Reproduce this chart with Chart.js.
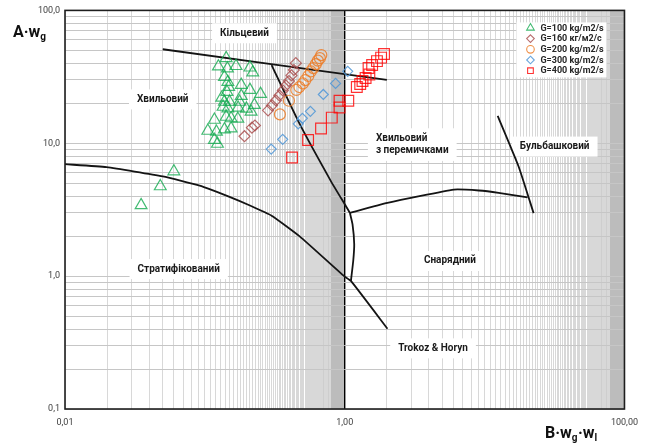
<!DOCTYPE html>
<html>
<head>
<meta charset="utf-8">
<script src="https://cdn.jsdelivr.net/npm/chart.js@4.4.1/dist/chart.umd.min.js"></script>
<style>
  html, body { margin: 0; padding: 0; background: #ffffff; }
  canvas { display: block; }
</style>
</head>
<body>
<canvas id="flowMap" width="646" height="443"></canvas>
<script>
// Measured points, [B·wg·wl, A·wg]
const g100 = [
  [0.142, 43.7], [0.125, 37.8], [0.145, 36.5], [0.167, 38.1], [0.210, 37.1], [0.220, 34.1],
  [0.138, 31.5], [0.146, 28.9], [0.148, 26.5], [0.182, 27.5], [0.210, 25.2], [0.250, 23.5],
  [0.144, 24.3], [0.132, 22.0], [0.138, 20.5], [0.150, 20.5], [0.177, 20.5], [0.182, 22.7],
  [0.146, 18.3], [0.135, 18.8], [0.173, 18.5], [0.198, 18.2], [0.226, 19.4], [0.214, 17.3],
  [0.117, 15.0], [0.142, 15.8], [0.154, 15.4], [0.172, 15.3], [0.105, 12.4], [0.121, 12.2],
  [0.138, 12.7], [0.154, 12.9], [0.117, 10.6], [0.123, 9.9],
  [0.035, 3.42], [0.048, 4.74], [0.060, 6.14]
];
const g160 = [
  [0.192, 11.3], [0.217, 13.1], [0.228, 13.6], [0.283, 17.7], [0.302, 19.3], [0.322, 21.0],
  [0.341, 22.9], [0.361, 25.0], [0.380, 27.2], [0.399, 29.4], [0.416, 32.4], [0.433, 35.6],
  [0.447, 40.1]
];
const g200 = [
  [0.344, 16.5], [0.399, 20.9], [0.451, 25.2], [0.474, 26.5], [0.502, 28.2], [0.523, 29.9],
  [0.549, 32.1], [0.572, 34.7], [0.596, 36.8], [0.621, 39.4], [0.642, 41.9], [0.664, 43.7],
  [0.680, 46.1]
];
const g300 = [
  [0.298, 9.04], [0.360, 10.7], [0.465, 14.0], [0.498, 15.4], [0.568, 17.4], [0.703, 23.3],
  [0.860, 28.2], [1.05, 34.8]
];
const g400 = [
  [0.420, 7.81], [0.547, 10.6], [0.677, 12.9], [0.808, 15.6], [0.918, 18.6], [0.918, 20.9],
  [1.06, 20.9], [1.22, 26.5], [1.29, 27.9], [1.34, 29.4], [1.41, 31.0], [1.50, 32.9],
  [1.48, 36.8], [1.57, 38.8], [1.70, 41.5], [1.82, 44.1], [1.91, 46.9]
];

// Flow-regime boundaries (Trokoz & Horyn map)
const annularBoundary = [[0.05, 51], [2.0, 30]];
const annularWavyBridge = [[0.3, 38.8], [0.474, 14.1], [0.798, 5.17], [1.02, 3.36], [1.089, 2.99]];
const stratifiedBoundary = [
  [0.01, 6.96], [0.0198, 6.61], [0.05, 5.63], [0.0918, 4.80], [0.15, 3.95], [0.21, 3.40],
  [0.30, 2.85], [0.474, 2.0], [0.99, 1.0], [1.107, 0.92], [2.02, 0.402]
];
const slugWestBoundary = [[1.089, 2.99], [1.137, 2.45], [1.169, 1.74], [1.150, 1.30], [1.107, 0.92]];
const slugTopBoundary = [[1.089, 2.99], [2.02, 3.56], [6.04, 4.48], [9.1, 4.41], [12.6, 4.24], [20.3, 3.92]];
const bubbleBoundary = [[12.4, 16.1], [17.5, 6.69], [22.4, 2.98]];

// Axis labels
const xLabelValues = [0.01, 1, 100];
const xLabelText = ['0,01', '1,00', '100,00'];
const yLabelValues = [0.1, 1, 10, 100];
const yLabelText = ['0,1', '1,0', '10,0', '100,0'];

// Series names
const seriesNames = ['G=100 kg/m2/s', 'G=160 кг/м2/с', 'G=200 kg/m2/s', 'G=300 kg/m2/s', 'G=400 kg/m2/s'];

// Regime names placed in data coordinates
const regionLabels = [
  { lines: ['Кільцевий'], x: 0.192, y: 67.3, align: 'center' },
  { lines: ['Хвильовий'], x: 0.05, y: 21.4, align: 'center' },
  { lines: ['Хвильовий', 'з перемичками'], x: 1.67, y: 10.9, align: 'left' },
  { lines: ['Бульбашковий'], x: 31.7, y: 9.44, align: 'center' },
  { lines: ['Стратифікований'], x: 0.065, y: 1.13, align: 'center' },
  { lines: ['Снарядний'], x: 5.65, y: 1.30, align: 'center' },
  { lines: ['Trokoz & Horyn'], x: 4.28, y: 0.286, align: 'center' }
];

const FONT = 'Roboto, "Open Sans", "DejaVu Sans", sans-serif';

function toPoints(arr) { return arr.map(p => ({ x: p[0], y: p[1] })); }

function matchLabel(values, texts, v) {
  const i = values.findIndex(t => Math.abs(t - v) / t < 1e-6);
  return i >= 0 ? texts[i] : '';
}

// gridlines at every hundredth below 1 and every unit above 1
function denseXGrid() {
  const v = [];
  for (let k = 1; k < 100; k++) v.push(k / 100);
  for (let k = 1; k <= 100; k++) v.push(k);
  return v;
}
function decadeYGrid() {
  const v = [];
  [0.1, 1, 10].forEach(d => { for (let k = 1; k < 10; k++) v.push(+(k * d).toPrecision(6)); });
  v.push(100);
  return v;
}
// the last fifth of each dense run merges into a solid band
function inDenseBand(v) {
  return (v >= 0.8 - 1e-9 && v < 1 - 1e-9) || (v >= 80 - 1e-9 && v < 100 - 1e-9);
}
function isUnit(v) { return Math.abs(v - 1) < 1e-9; }

const markerSets = [
  { data: g100, style: 'triangle', radius: 6.8, color: 'rgba(20,170,80,0.8)' },
  { data: g160, style: 'rectRot', radius: 5.5, color: 'rgba(168,72,72,0.8)' },
  { data: g200, style: 'circle', radius: 5.5, color: 'rgba(236,125,40,0.85)' },
  { data: g300, style: 'rectRot', radius: 5, color: 'rgba(80,150,215,0.85)' },
  { data: g400, style: 'rect', radius: 7.6, color: 'rgba(255,0,0,0.8)' }
];

const datasets = markerSets.map((s, i) => ({
  label: seriesNames[i],
  data: toPoints(s.data),
  pointStyle: s.style,
  pointRadius: s.radius,
  pointHoverRadius: s.radius,
  pointBorderColor: s.color,
  pointBackgroundColor: 'rgba(0,0,0,0)',
  pointBorderWidth: 1.2,
  showLine: false,
  inLegend: true,
  order: 1
}));

[annularBoundary, annularWavyBridge, stratifiedBoundary, slugWestBoundary, slugTopBoundary, bubbleBoundary]
  .forEach(line => datasets.push({
    data: toPoints(line),
    showLine: true,
    borderColor: '#141414',
    borderWidth: 1.8,
    pointRadius: 0,
    tension: 0.15,
    inLegend: false,
    order: 2
  }));

const regionLabelPlugin = {
  id: 'regionLabels',
  beforeDatasetsDraw(chart) {
    const { ctx, scales } = chart;
    ctx.save();
    ctx.font = 'bold 10px ' + FONT;
    ctx.textBaseline = 'middle';
    regionLabels.forEach(l => {
      const px = scales.x.getPixelForValue(l.x);
      const py = scales.y.getPixelForValue(l.y);
      const lh = 12.6;
      const w = Math.max(...l.lines.map(t => ctx.measureText(t).width));
      const left = l.align === 'left' ? px : px - w / 2;
      const top = py - 10;
      const h = 20 + (l.lines.length - 1) * lh;
      ctx.fillStyle = '#ffffff';
      ctx.fillRect(left - 8, top, w + 16, h);
      ctx.fillStyle = '#1a1a1a';
      ctx.textAlign = 'left';
      l.lines.forEach((t, j) => {
        const tw = ctx.measureText(t).width;
        const tx = l.align === 'left' ? left : px - tw / 2;
        ctx.fillText(t, tx, py + j * lh);
      });
    });
    ctx.restore();
  }
};

function drawMarker(ctx, style, x, y, r) {
  ctx.beginPath();
  if (style === 'triangle') {
    ctx.moveTo(x, y - r);
    ctx.lineTo(x + r * 0.866, y + r * 0.5);
    ctx.lineTo(x - r * 0.866, y + r * 0.5);
    ctx.closePath();
  } else if (style === 'rectRot') {
    ctx.moveTo(x, y - r); ctx.lineTo(x + r, y); ctx.lineTo(x, y + r); ctx.lineTo(x - r, y);
    ctx.closePath();
  } else if (style === 'circle') {
    ctx.arc(x, y, r, 0, Math.PI * 2);
  } else {
    const s = r * 0.75;
    ctx.rect(x - s, y - s, 2 * s, 2 * s);
  }
  ctx.stroke();
}

const legendPlugin = {
  id: 'insideLegend',
  afterDatasetsDraw(chart) {
    const { ctx, chartArea } = chart;
    const left = chartArea.right - 108, top = chartArea.top + 12;
    ctx.save();
    ctx.fillStyle = '#ffffff';
    ctx.fillRect(left, top, 90, 55);
    ctx.font = 'bold 9px ' + FONT;
    ctx.textBaseline = 'middle';
    ctx.textAlign = 'left';
    chart.data.datasets.filter(d => d.inLegend).forEach((d, i) => {
      const y = top + 5.5 + i * 10.7;
      ctx.strokeStyle = d.pointBorderColor;
      ctx.lineWidth = 1.1;
      drawMarker(ctx, d.pointStyle, left + 14, y, d.pointStyle === 'triangle' ? 4.4 : 3.8);
      ctx.fillStyle = '#262626';
      ctx.fillText(d.label, left + 24, y + 0.5);
    });
    ctx.restore();
  }
};

const framePlugin = {
  id: 'frame',
  afterDraw(chart) {
    const { ctx, chartArea: a } = chart;
    ctx.save();
    ctx.strokeStyle = '#1e1e1e';
    ctx.lineWidth = 1.6;
    ctx.strokeRect(a.left, a.top, a.right - a.left, a.bottom - a.top);

    // axis titles
    ctx.fillStyle = '#111111';
    ctx.textBaseline = 'alphabetic';
    ctx.textAlign = 'left';
    const big = 'bold 16px ' + FONT, small = 'bold 10px ' + FONT;
    function run(parts, x, y) {
      parts.forEach(p => {
        ctx.font = p.sub ? small : big;
        ctx.fillText(p.t, x, y + (p.sub ? 3 : 0));
        x += ctx.measureText(p.t).width + (p.sub ? 0.5 : 0);
      });
    }
    run([{ t: 'A·w' }, { t: 'g', sub: true }], 13, 37);
    run([{ t: 'B·w' }, { t: 'g', sub: true }, { t: '·w' }, { t: 'l', sub: true }], 545, 438);
    ctx.restore();
  }
};

new Chart(document.getElementById('flowMap'), {
  type: 'scatter',
  data: { datasets },
  options: {
    responsive: false,
    animation: false,
    devicePixelRatio: 1,
    layout: { padding: { top: 8, right: 20, left: 0, bottom: 0 } },
    plugins: { legend: { display: false }, tooltip: { enabled: false } },
    scales: {
      x: {
        type: 'logarithmic',
        min: 0.01,
        max: 100,
        afterFit(s) { s.height = 34; },
        afterBuildTicks(s) { s.ticks = denseXGrid().map(v => ({ value: v })); },
        border: { display: false },
        grid: {
          drawTicks: false,
          color: c => {
            const v = c.tick ? c.tick.value : 0;
            if (isUnit(v)) return '#000000';
            return inDenseBand(v) ? '#bcbcbc' : '#cbcbcb';
          },
          lineWidth: c => {
            const v = c.tick ? c.tick.value : 0;
            if (isUnit(v)) return 1.4;
            return inDenseBand(v) ? 1 : 0.75;
          }
        },
        ticks: {
          autoSkip: false,
          maxRotation: 0,
          minRotation: 0,
          padding: 8,
          color: '#404040',
          font: { family: FONT, size: 9 },
          callback: v => matchLabel(xLabelValues, xLabelText, v)
        }
      },
      y: {
        type: 'logarithmic',
        min: 0.1,
        max: 100,
        afterFit(s) { s.width = 65; },
        afterBuildTicks(s) { s.ticks = decadeYGrid().map(v => ({ value: v })); },
        border: { display: false },
        grid: { drawTicks: false, color: '#c6c6c6', lineWidth: 1 },
        ticks: {
          autoSkip: false,
          padding: 5,
          color: '#404040',
          font: { family: FONT, size: 9 },
          callback: v => matchLabel(yLabelValues, yLabelText, v)
        }
      }
    }
  },
  plugins: [regionLabelPlugin, legendPlugin, framePlugin]
});
</script>
</body>
</html>
